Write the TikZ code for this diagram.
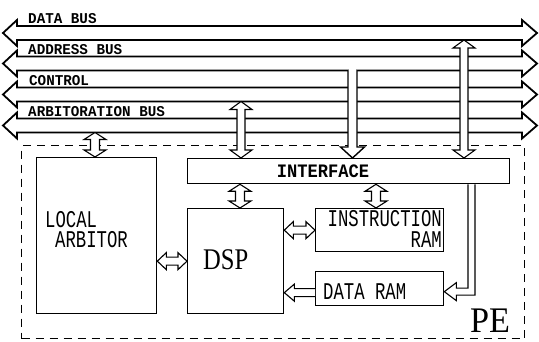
\documentclass[tikz,border=0pt]{standalone}
\usepackage{fontspec}
\setmainfont{Liberation Mono}
\newfontfamily\busfont[FakeStretch=0.95]{Liberation Mono}
\newfontfamily\boxfont[FakeStretch=0.72]{Liberation Mono}
\newfontfamily\iffont[FakeStretch=0.9]{Liberation Mono}
\newfontfamily\dspfont[FakeStretch=0.82]{Liberation Serif}
\newfontfamily\pefont[FakeStretch=0.95]{Liberation Serif}
\usetikzlibrary{calc}
% vertical hollow double arrow: top point, bottom point, shaft half width, head half width, head length
\newcommand\vdarrow[5]{\filldraw[harrow] let \p1=(#1), \p2=(#2) in
 (\x1-#3,\y1-#5) -- (\x1-#4,\y1-#5) -- (\x1,\y1) -- (\x1+#4,\y1-#5) -- (\x1+#3,\y1-#5) --
 (\x1+#3,\y2+#5) -- (\x1+#4,\y2+#5) -- (\x1,\y2) -- (\x1-#4,\y2+#5) -- (\x1-#3,\y2+#5) -- cycle;}
% horizontal hollow double arrow: left point, right point
\newcommand\hdarrow[5]{\filldraw[harrow] let \p1=(#1), \p2=(#2) in
 (\x1+#5,\y1+#3) -- (\x1+#5,\y1+#4) -- (\x1,\y1) -- (\x1+#5,\y1-#4) -- (\x1+#5,\y1-#3) --
 (\x2-#5,\y1-#3) -- (\x2-#5,\y1-#4) -- (\x2,\y1) -- (\x2-#5,\y1+#4) -- (\x2-#5,\y1+#3) -- cycle;}
% horizontal hollow single arrow pointing left: tip point, tail point
\newcommand\hsarrow[5]{\filldraw[harrow] let \p1=(#1), \p2=(#2) in
 (\x2,\y1+#3) -- (\x1+#5,\y1+#3) -- (\x1+#5,\y1+#4) -- (\x1,\y1) -- (\x1+#5,\y1-#4) -- (\x1+#5,\y1-#3) -- (\x2,\y1-#3);}
% bus: wide hollow double arrow across the picture, centre line y
\newcommand\busarrow[1]{\draw[bus] (3,#1) -- (17,#1-13) -- (17,#1-7) -- (522,#1-7) -- (522,#1-13) -- (537,#1) --
 (522,#1+13) -- (522,#1+7) -- (17,#1+7) -- (17,#1+13) -- cycle;}
\begin{document}
\begin{tikzpicture}[x=1pt,y=-1pt,line join=miter,
  bus/.style={draw,fill=white,line width=1.8pt},
  box/.style={draw,line width=1.3pt,inner sep=0pt,anchor=north west},
  harrow/.style={draw,fill=white,line width=1.1pt},
  pe/.style={line width=1.4pt,dash pattern=on 8pt off 6pt},
  lbl/.style={inner sep=0pt,anchor=base west},
  buslbl/.style={lbl,font=\busfont\bfseries\fontsize{15}{15}\selectfont},
  boxlbl/.style={lbl,text height=16pt,text depth=0pt,font=\boxfont\fontsize{24}{20}\selectfont}]
\useasboundingbox (0,0) rectangle (539,342);
\fill[white] (0,0) rectangle (539,342);
% PE dashed frame
\node[box,pe,minimum width=503pt,minimum height=193pt] (pebox) at (21,145) {};
% buses
\busarrow{33}
\busarrow{63.5}
\busarrow{94.5}
\busarrow{125.5}
\node[buslbl] (ldata) at (28,24) {DATA BUS};
\node[buslbl] (laddr) at (28,54.5) {ADDRESS BUS};
\node[buslbl] (lctl) at (29,85.5) {CONTROL};
\node[buslbl] (larb) at (28,116.5) {ARBITORATION BUS};
% boxes
\node[box,minimum width=120pt,minimum height=156pt] (la) at (36,157) {};
\node[box,minimum width=322pt,minimum height=25pt] (iface) at (187,158) {};
\node[box,minimum width=96pt,minimum height=105pt] (dsp) at (187,208) {};
\node[box,minimum width=128pt,minimum height=43pt] (iram) at (315,208) {};
\node[box,minimum width=128pt,minimum height=34pt] (dram) at (315,271) {};
% texts
\node[inner sep=0pt,font=\iffont\bfseries\fontsize{19}{19}\selectfont] (tif) at (323,171) {INTERFACE};
\node[boxlbl] (tla1) at (45,228) {LOCAL};
\node[boxlbl] (tla2) at (55,248) {ARBITOR};
\node[lbl,font=\dspfont\fontsize{30}{30}\selectfont] (tdsp) at (203,270) {DSP};
\node[boxlbl,anchor=base east] (tir1) at (442,227) {INSTRUCTION};
\node[boxlbl,anchor=base east] (tir2) at (442,248) {RAM};
\node[boxlbl] (tdr) at (323,300) {DATA RAM};
\node[lbl,font=\pefont\fontsize{36}{36}\selectfont] (tpe) at (470,333) {PE};
% connection points
\coordinate (arbB) at (95,132.5);
\coordinate (ctlB) at (241,101.5);
\coordinate (datB) at (464,40);
\coordinate (adrB) at (352.5,70.5);
\coordinate (c1) at (240,0);
\coordinate (c2) at (376,0);
\coordinate (c3) at (471.5,0);
% arrows
\vdarrow{arbB}{la.north -| arbB}{4.5pt}{11pt}{7pt}
\vdarrow{ctlB}{iface.north -| ctlB}{4pt}{11pt}{8pt}
\vdarrow{datB}{iface.north -| datB}{4pt}{11pt}{8pt}
\fill[white] (349,68.5) rectangle (356,72.5);
\filldraw[harrow,line width=1.4pt] let \p1=(adrB), \p2=(iface.north -| adrB) in
 (\x1-4.5pt,\y1) -- (\x1-4.5pt,\y2+11pt) -- (\x1-12pt,\y2+11pt) -- (\x2,\y2) --
 (\x1+12pt,\y2+11pt) -- (\x1+4.5pt,\y2+11pt) -- (\x1+4.5pt,\y1);
\vdarrow{iface.south -| c1}{dsp.north -| c1}{4.5pt}{11pt}{7pt}
\vdarrow{iface.south -| c2}{iram.north -| c2}{4.5pt}{11pt}{7pt}
\hdarrow{la.east |- dsp.west}{dsp.west}{4pt}{8.5pt}{9pt}
\hdarrow{dsp.east |- iram.west}{iram.west}{4pt}{8.5pt}{9pt}
\hsarrow{$(dsp.east |- dram.west)+(0,4)$}{$(dram.west)+(0,4)$}{4pt}{8.5pt}{10pt}
\filldraw[harrow] let \p1=(iface.south -| c3), \p2=($(dram.east)+(0,3)$) in
 (\x1-3.5pt,\y1) -- (\x1-3.5pt,\y2+3.5pt) -- (\x2+12pt,\y2+3.5pt) -- (\x2+12pt,\y2+9pt) -- (\x2,\y2) --
 (\x2+12pt,\y2-9pt) -- (\x2+12pt,\y2-3.5pt) -- (\x1+3.5pt,\y2-3.5pt) -- (\x1+3.5pt,\y1);
\end{tikzpicture}
\end{document}
